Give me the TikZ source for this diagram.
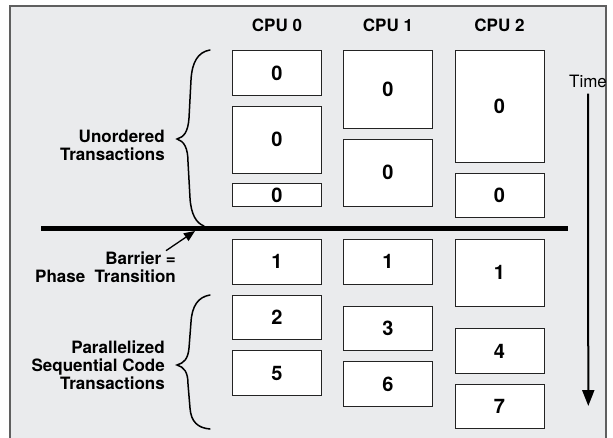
\documentclass[tikz,border=0pt]{standalone}
\usepackage{fontspec}
\setmainfont{TeX Gyre Heros}
\usetikzlibrary{arrows.meta}
\definecolor{panelgray}{RGB}{234,235,237}
\definecolor{framegray}{RGB}{95,95,95}
\definecolor{boxedge}{RGB}{35,35,35}

\begin{document}
\begin{tikzpicture}[x=1pt,y=-1pt,
  txn/.style={draw=boxedge,line width=0.9pt,fill=white,minimum width=89pt,inner sep=0pt,
    font=\fontsize{20}{21}\selectfont\bfseries},
  sidelbl/.style={anchor=east,align=right,inner sep=1pt,font=\fontsize{17}{18}\selectfont\bfseries},
  cpulbl/.style={font=\fontsize{17}{18}\selectfont\bfseries},
  bracket/.style={line width=1.5pt,line cap=round}]
  \useasboundingbox (0,0) rectangle (613,437);
  \clip (0,0) rectangle (613,437);
  \draw[framegray,line width=1.2pt,fill=panelgray] (10,6) rectangle (606,460);

  % CPU columns
  \foreach \c/\x in {0/277,1/388,2/499.5} {
    \node[cpulbl] (cpu\c) at (\x,25.3) {CPU \c};
  }

  % transactions: column x / top / bottom / number
  \foreach \x/\ytop/\ybot/\n [count=\i] in {
      277/50.7/95/0, 277/106/173/0, 277/183.7/206/0,
      277/239.3/284/1, 277/295/339/2, 277/350.7/395.3/5,
      388/50.7/128.7/0, 388/139/206/0,
      388/239.3/284/1, 388/306/350.7/3, 388/361.7/406/6,
      499.5/50.7/162/0, 499.5/173/217.7/0,
      499.5/239.3/306/1, 499.5/328.7/373.3/4, 499.5/384/428.7/7} {
    \pgfmathsetmacro{\hgt}{\ybot-\ytop}
    \pgfmathsetmacro{\yc}{(\ytop+\ybot)/2}
    \node[txn,minimum height=\hgt pt] (tx\i) at (\x,\yc) {\n};
  }

  % barrier
  \coordinate (barL) at (41,228.5);
  \coordinate (barR) at (568,228.5);
  \draw[line width=5pt] (barL) -- (barR);

  % left side labels
  \node[sidelbl] (unordered) at (166,145) {Unordered\\Transactions};
  \node[sidelbl] (barrier) at (177,267.3) {Barrier =\\Phase\ \ Transition};
  \node[sidelbl] (parseq) at (166,365) {Parallelized\\Sequential Code\\Transactions};

  \coordinate (bartip) at (195,231);
  \draw[line width=1.3pt,-{Triangle[length=11pt,width=9pt]}]
    ([xshift=-11pt]barrier.north east) -- (bartip);

  % braces
  \draw[bracket] (210,50) .. controls (198,52) and (192,62) .. (191,80)
    -- (189,118) .. controls (188,132) and (184,137) .. (177,139)
    .. controls (184,141) and (188,148) .. (188,162)
    -- (190,198) .. controls (191,214) and (196,223) .. (204,226);
  \draw[bracket] (210,295) .. controls (198,297) and (192,306) .. (191,322)
    -- (189,348) .. controls (188,359) and (184,363) .. (177,365)
    .. controls (184,367) and (188,372) .. (188,384)
    -- (190,408) .. controls (191,422) and (198,428) .. (210,429);

  % time axis
  \node[font=\fontsize{17}{18}\selectfont] (time) at (588,81.7) {Time};
  \coordinate (timeend) at (588.3,406);
  \draw[line width=2pt,-{Triangle[length=16pt,width=12pt]}]
    ([yshift=-2pt]time.south) -- (timeend);
\end{tikzpicture}
\end{document}
